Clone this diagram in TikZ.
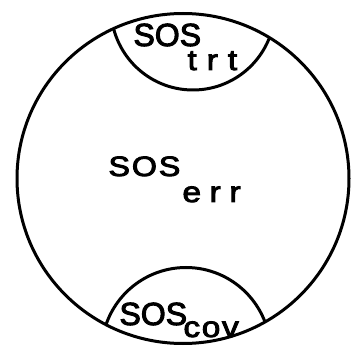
\documentclass[tikz,border=0pt]{standalone}
\usepackage{fontspec}
\newfontfamily\sosfont[FakeBold=3]{Liberation Sans}
\newcommand{\wide}[1]{\scalebox{1.15}[1]{#1}}

\begin{document}
\begin{tikzpicture}[x=1pt, y=-1pt, line width=3pt,
  sos/.style={inner sep=0pt, anchor=base west, font=\fontsize{32}{32}\sosfont},
  sosmid/.style={inner sep=0pt, anchor=base west,
    font={\fontsize{28}{28}\sosfont\addfontfeature{LetterSpace=6}}},
  sub/.style={inner sep=0pt, anchor=base west,
    font={\fontsize{29}{29}\sosfont\addfontfeature{LetterSpace=#1}}}]
\useasboundingbox (0,0) rectangle (351,350);
% the whole set and its two caps
\begin{scope}
\clip (183,178.5) ellipse [x radius=166, y radius=165];
\draw (193,8) circle [radius=82];
\draw (186,352) circle [radius=84.5];
\end{scope}
\draw (183,178.5) ellipse [x radius=166, y radius=165];
% labels
\node[sos] (trtmain) at (132,46) {SOS};
\node[sub=30] (trtsub) at (186,70) {\wide{trt}};
\node[sosmid] (errmain) at (107,176) {\wide{SOS}};
\node[sub=26] (errsub) at (181,202) {\wide{err}};
\node[sos] (covmain) at (118,325) {SOS};
\node[sub=5] (covsub) at (182,337) {\wide{cov}};
\end{tikzpicture}
\end{document}
